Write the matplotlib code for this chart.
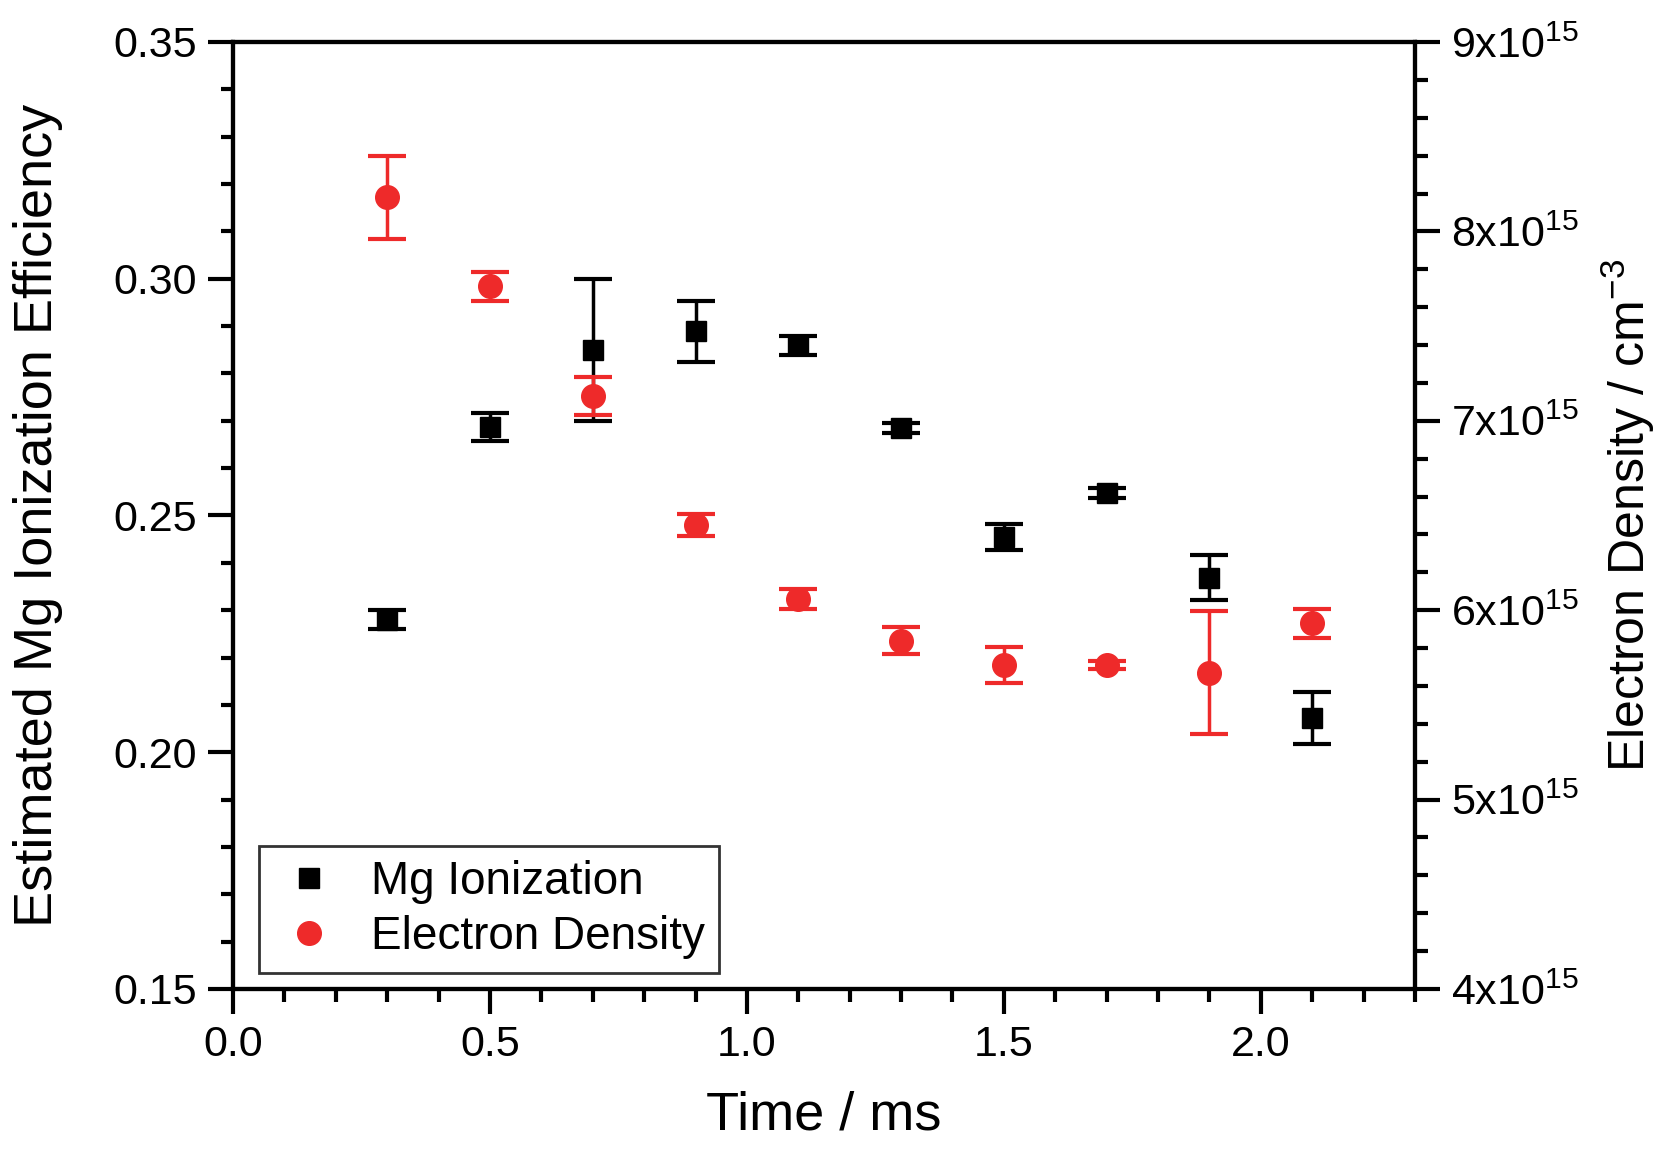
import numpy as np
import matplotlib
matplotlib.use('Agg')
import matplotlib.pyplot as plt
from matplotlib.ticker import MultipleLocator, FuncFormatter

plt.rcParams['font.family'] = ['Liberation Sans', 'DejaVu Sans']
plt.rcParams['mathtext.default'] = 'regular'

# data
time = [0.3, 0.5, 0.7, 0.9, 1.1, 1.3, 1.5, 1.7, 1.9, 2.1]
mg_eff = [0.228, 0.2687, 0.285, 0.2889, 0.286, 0.2685, 0.2454, 0.2548, 0.2369, 0.2073]
mg_err = [0.002, 0.003, 0.015, 0.0065, 0.002, 0.001, 0.0027, 0.001, 0.0047, 0.0055]
ne = [8.18, 7.71, 7.13, 6.45, 6.06, 5.84, 5.71, 5.71, 5.67, 5.93]   # x1e15 cm^-3
ne_err = [0.22, 0.075, 0.10, 0.056, 0.053, 0.073, 0.095, 0.02, 0.325, 0.078]

red = '#ee2a2a'

fig = plt.figure(figsize=(16.62, 11.51), dpi=100)
ax = fig.add_axes([233/1662, 1-989/1151, (1415-233)/1662, (989-42)/1151])
ax2 = ax.twinx()

ax.errorbar(time, mg_eff, yerr=mg_err, fmt='s', color='black', ms=15,
            capsize=14, capthick=3, elinewidth=2.5, label='Mg Ionization', zorder=3)
ne_scaled = np.array(ne) * 1e15
ne_err_scaled = np.array(ne_err) * 1e15
ax2.errorbar(time, ne_scaled, yerr=ne_err_scaled, fmt='o', color=red, ms=17,
             capsize=14, capthick=3, elinewidth=2.5, label='Electron Density', zorder=3)

ax.set_xlim(0, 2.3)
ax.set_ylim(0.15, 0.35)
ax2.set_ylim(4e15, 9e15)

ax.xaxis.set_major_locator(MultipleLocator(0.5))
ax.xaxis.set_minor_locator(MultipleLocator(0.1))
ax.yaxis.set_major_locator(MultipleLocator(0.05))
ax.yaxis.set_minor_locator(MultipleLocator(0.01))
ax2.yaxis.set_major_locator(MultipleLocator(1e15))
ax2.yaxis.set_minor_locator(MultipleLocator(0.2e15))

ax.xaxis.set_major_formatter(FuncFormatter(lambda v, p: '%.1f' % v))
ax.yaxis.set_major_formatter(FuncFormatter(lambda v, p: '%.2f' % v))
ax2.yaxis.set_major_formatter(FuncFormatter(lambda v, p: '%dx10$^{15}$' % round(v/1e15)))

for a in (ax, ax2):
    for s in a.spines.values():
        s.set_linewidth(3)
ax.tick_params(axis='both', which='major', direction='out', length=18, width=3,
               labelsize=31, pad=8)
ax.tick_params(axis='both', which='minor', direction='out', length=9, width=3)
ax.tick_params(top=False, right=False, which='both')
ax2.tick_params(axis='y', which='major', direction='out', length=18, width=3,
                labelsize=31, pad=8)
ax2.tick_params(axis='y', which='minor', direction='out', length=9, width=3)

ax.set_xlabel('Time / ms', fontsize=39, labelpad=18)
ax.set_ylabel('Estimated Mg Ionization Efficiency', fontsize=39, labelpad=36)
ax2.set_ylabel('Electron Density / cm$^{-3}$', fontsize=36, labelpad=14)

hh = [plt.Line2D([], [], ls='', marker='s', color='black', ms=15),
      plt.Line2D([], [], ls='', marker='o', color=red, ms=17)]
leg = ax2.legend(hh, ['Mg Ionization', 'Electron Density'], loc='lower left',
                 bbox_to_anchor=(0.022, 0.017), fontsize=33, frameon=True,
                 fancybox=False, edgecolor='black', handlelength=1.6,
                 handletextpad=0.55, borderpad=0.3, labelspacing=0.25,
                 borderaxespad=0)
leg.get_frame().set_linewidth(2)

fig.savefig('out.png', dpi=100)
